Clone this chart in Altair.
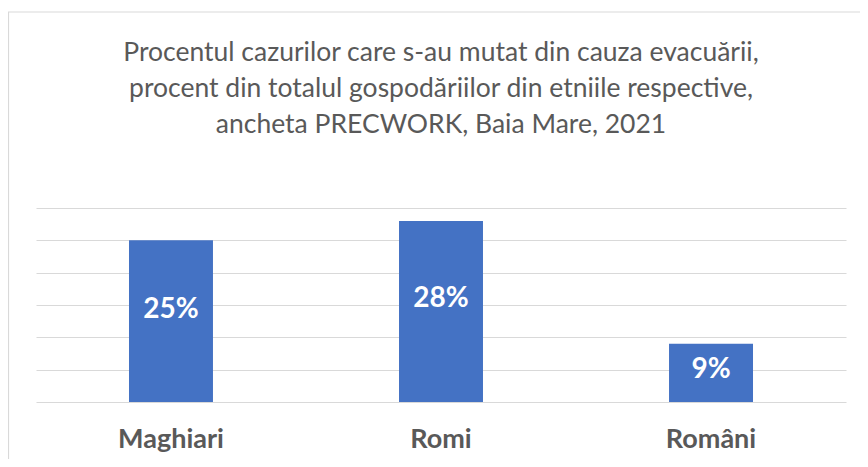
import altair as alt
import pandas as pd

categories = ["Maghiari", "Romi", "Români"]
values = [25, 28, 9]
labels = ["25%", "28%", "9%"]
title_lines = [
    "Procentul cazurilor care s-au mutat din cauza evacuării,",
    "procent din totalul gospodăriilor din etniile respective,",
    "ancheta PRECWORK, Baia Mare, 2021",
]

df = pd.DataFrame({"cat": categories, "value": values, "label": labels})

FONT = "Lato"
GRAY = "#595959"

x_axis = alt.Axis(
    labelAngle=0,
    labelFont=FONT,
    labelFontSize=27,
    labelFontWeight="bold",
    labelColor=GRAY,
    labelPadding=24,
    ticks=False,
    tickSize=0,
    domain=False,
)
y_axis = alt.Axis(
    values=[0, 5, 10, 15, 20, 25, 30],
    labels=False,
    ticks=False,
    domain=False,
    grid=True,
    gridColor="#d9d9d9",
    gridWidth=1.2,
)
x_scale = alt.Scale(paddingInner=0.689, paddingOuter=0.3444)
y_scale = alt.Scale(domain=[0, 30], nice=False)

base = alt.Chart(df)

frame = base.mark_rect(fill=None, stroke="#d9d9d9", strokeWidth=1.2).encode(
    x=alt.value(-27.5), x2=alt.value(900), y=alt.value(-196), y2=alt.value(400)
).transform_filter(alt.datum.cat == "Maghiari")

bars = base.mark_bar(color="#4472C4").encode(
    x=alt.X("cat:N", sort=categories, title=None, scale=x_scale, axis=x_axis),
    y=alt.Y("value:Q", title=None, scale=y_scale, axis=y_axis),
)

text = base.mark_text(
    font=FONT, fontSize=28, fontWeight="bold", color="white", baseline="middle", dy=2
).transform_calculate(pos="datum.value * 0.58").encode(
    x=alt.X("cat:N", sort=categories, title=None, scale=x_scale, axis=x_axis),
    y=alt.Y("pos:Q", title=None, scale=y_scale, axis=y_axis),
    text="label:N",
)

chart = alt.layer(bars, text, frame).properties(
    width=810,
    height=194,
    autosize=alt.AutoSizeParams(type="none"),
    padding={"left": 28, "top": 200, "right": 14, "bottom": 57},
    title=alt.TitleParams(
        text=title_lines,
        font=FONT,
        fontSize=26.5,
        fontWeight="normal",
        color=GRAY,
        lineHeight=36,
        anchor="middle",
        offset=-127,
    ),
).configure_view(stroke=None)

chart.save("out.html", embed_options={"renderer": "svg", "actions": False})
